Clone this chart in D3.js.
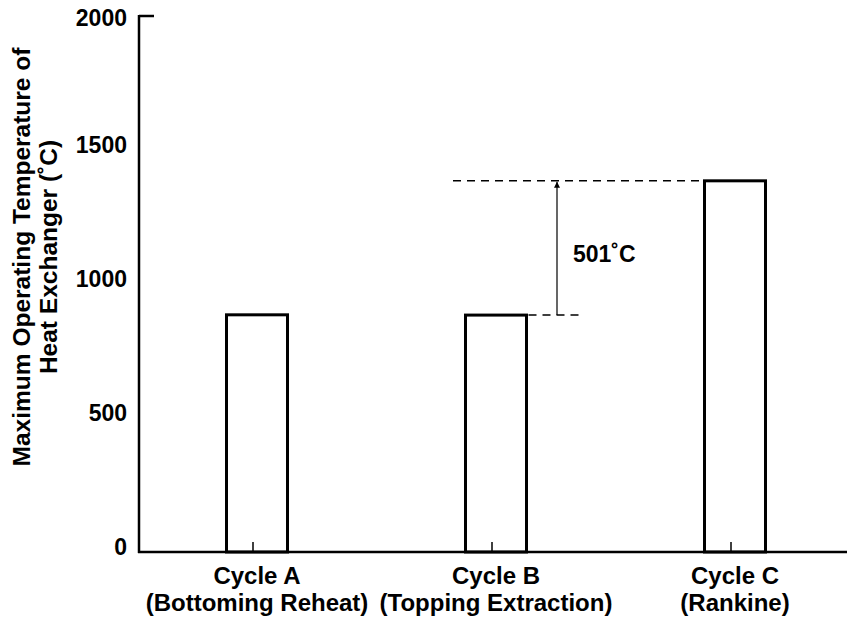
<!DOCTYPE html>
<html>
<head>
<meta charset="utf-8">
<script src="https://cdn.jsdelivr.net/npm/d3@7"></script>
<style>
body{margin:0;background:#fff;}
text{font-family:"Liberation Sans",Arial,sans-serif;font-weight:bold;fill:#000;}
</style>
</head>
<body>
<svg width="847" height="620"></svg>
<script>
const svg=d3.select('svg');

// data
const cycles=['Cycle A','Cycle B','Cycle C'];
const subLabels=['(Bottoming Reheat)','(Topping Extraction)','(Rankine)'];
const temps=[885,884,1385];
const yTicks=[0,500,1000,1500,2000];
const diffLabel='501˚C';

const margin={top:16,right:0,bottom:68,left:139};
const W=847,H=620;

const y=d3.scaleLinear().domain([0,2000]).range([H-margin.bottom,margin.top]);
const x=d3.scalePoint().domain(cycles).range([257,735]);
const barW=61;

/*** axes ***/
const axisG=svg.append('g');
axisG.append('line')
  .attr('x1',margin.left).attr('x2',margin.left)
  .attr('y1',y(2000)-1).attr('y2',y(0)+1)
  .attr('stroke','#000').attr('stroke-width',2.5);
axisG.append('line')
  .attr('x1',margin.left-1).attr('x2',W)
  .attr('y1',y(0)).attr('y2',y(0))
  .attr('stroke','#000').attr('stroke-width',2.5);
// top tick
axisG.append('line')
  .attr('x1',margin.left).attr('x2',margin.left+15)
  .attr('y1',y(2000)).attr('y2',y(2000))
  .attr('stroke','#000').attr('stroke-width',2.5);

axisG.selectAll('.ytl').data(yTicks).enter().append('text')
  .attr('class','ytl')
  .attr('x',margin.left-12)
  .attr('y',d=>Math.max(y(d)-5,18))
  .attr('dy','0.35em')
  .attr('text-anchor','end')
  .style('font-size','23px')
  .text(d=>d);

// small category ticks
axisG.selectAll('.xt').data(cycles).enter().append('line')
  .attr('x1',d=>x(d)-4).attr('x2',d=>x(d)-4)
  .attr('y1',y(0)).attr('y2',y(0)-10)
  .attr('stroke','#000').attr('stroke-width',1.5);

/*** bars ***/
svg.selectAll('.bar').data(temps).enter().append('rect')
  .attr('class','bar')
  .attr('x',(d,i)=>x(cycles[i])-barW/2)
  .attr('y',d=>y(d))
  .attr('width',barW)
  .attr('height',d=>y(0)-y(d))
  .attr('fill','none')
  .attr('stroke','#000')
  .attr('stroke-width',3);

/*** category labels ***/
svg.selectAll('.cl').data(cycles).enter().append('text')
  .attr('x',d=>x(d)).attr('y',584)
  .attr('text-anchor','middle').style('font-size','24px')
  .text(d=>d);
svg.selectAll('.sl').data(subLabels).enter().append('text')
  .attr('x',(d,i)=>x(cycles[i])).attr('y',611)
  .attr('text-anchor','middle').style('font-size','24px')
  .text(d=>d);

/*** y title ***/
const yt=svg.append('text')
  .attr('transform','translate(30,257) rotate(-90)')
  .attr('text-anchor','middle').style('font-size','24.5px');
yt.append('tspan').attr('x',0).attr('y',0).text('Maximum Operating Temperature of');
yt.append('tspan').attr('x',0).attr('y',27).text('Heat Exchanger (˚C)');

/*** difference annotation ***/
svg.append('defs').append('marker')
  .attr('id','ah').attr('viewBox','0 0 10 10')
  .attr('refX',10).attr('refY',5)
  .attr('markerWidth',6).attr('markerHeight',8)
  .attr('markerUnits','userSpaceOnUse')
  .attr('orient','auto')
  .append('path').attr('d','M0,0L10,5L0,10z').attr('fill','#000');

const bX=x('Cycle B'), cX=x('Cycle C');
svg.append('line')
  .attr('x1',453).attr('x2',cX-barW/2)
  .attr('y1',y(temps[2])).attr('y2',y(temps[2]))
  .attr('stroke','#000').attr('stroke-width',1.5).attr('stroke-dasharray','8,6');
svg.append('line')
  .attr('x1',bX+barW/2+2).attr('x2',580)
  .attr('y1',y(temps[1])).attr('y2',y(temps[1]))
  .attr('stroke','#000').attr('stroke-width',1.5).attr('stroke-dasharray','8,6');
svg.append('line')
  .attr('x1',557).attr('x2',557)
  .attr('y1',y(temps[1])).attr('y2',y(temps[2])+1)
  .attr('stroke','#000').attr('stroke-width',1.2)
  .attr('marker-end','url(#ah)');
svg.append('text')
  .attr('x',573).attr('y',262)
  .style('font-size','23px')
  .text(diffLabel);
</script>
</body>
</html>
